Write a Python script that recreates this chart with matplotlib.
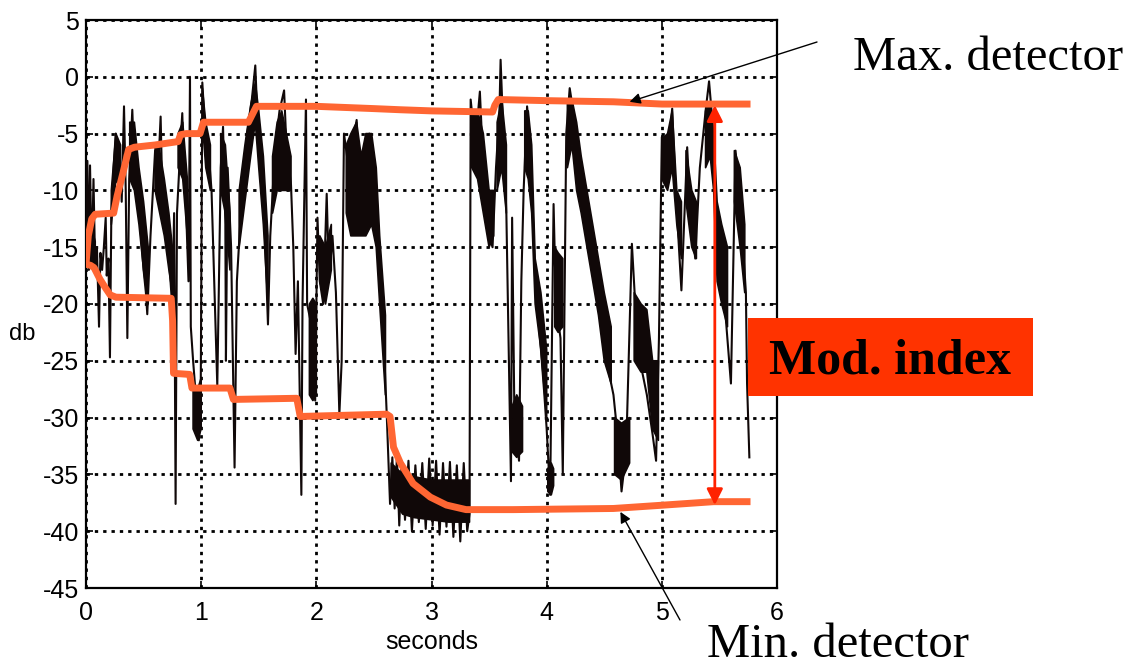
import numpy as np
import matplotlib
matplotlib.use("Agg")
import matplotlib.pyplot as plt
from matplotlib.patches import Rectangle

nan = np.nan

# ---- signal (thin trace, turning points) ----
sig_t = [0.000, 0.012, 0.025, 0.035, 0.050, 0.065, 0.080, 0.095, 0.113, 0.125, 0.140, 0.155, 0.171, 0.180,
         0.195, 0.208, 0.220, 0.240, 0.258, 0.270, 0.290, 0.310, 0.330, 0.345, 0.359, 0.375, 0.402, 0.420,
         0.440, 0.470, 0.500, 0.520, 0.532, 0.560, 0.600, 0.630, 0.648, 0.660, 0.700, 0.740, 0.750, 0.765,
         0.778, 0.790, 0.820, 0.836, 0.850, 0.870, 0.890, 0.903, 0.910, 0.930, 0.950, 0.980, 0.995, 1.010,
         1.030, 1.060, 1.090, 1.140, 1.170, 1.190, 1.210, 1.215, 1.230, 1.260, 1.290, 1.310, 1.350, 1.400,
         1.440, 1.470, 1.480, 1.510, 1.550, 1.580, 1.600, 1.640, 1.680, 1.720, 1.740, 1.780, 1.800, 1.820,
         1.840, 1.870, 1.880, 1.910, 1.920, 1.960, 1.990, 2.010, 2.030, 2.060, 2.090, 2.110, 2.140, 2.170,
         2.200, 2.220, 2.240, 2.280, 2.350, 2.380, 2.420, 2.460, 2.500, 2.540, 2.580, 2.610, 2.640, 2.660,
         2.680, 2.700, 2.720, 2.740, 2.770, 2.800, 2.830, 2.860, 2.890, 2.920, 2.950, 2.980, 3.010, 3.040,
         3.070, 3.100, 3.130, 3.160, 3.190, 3.220, 3.250, 3.280, 3.310, 3.330, 3.340, 3.380, 3.420,
         3.450, 3.500, 3.530, 3.560, 3.590, 3.600, 3.620, 3.650, 3.690, 3.700, 3.720, 3.760, 3.780, 3.800,
         3.830, 3.860, 3.900, 3.950, 3.980, 4.000, 4.030, 4.060, 4.080, 4.120, 4.140, 4.170, 4.200, 4.230,
         4.270, 4.320, 4.380, 4.450, 4.520, 4.580, 4.620, 4.650, 4.690, 4.740, 4.780, 4.830, 4.870, 4.920,
         4.950, 4.975, 5.000, 5.020, 5.060, 5.090, 5.120, 5.170, 5.220, 5.250, 5.290, 5.330, 5.380, 5.410,
         5.440, 5.480, 5.530, 5.600, 5.640, 5.680, 5.730, 5.740, 5.760]
sig_y = [-16.5, -7.4, -17.0, -7.8, -16.5, -9.0, -17.0, -15.0, -22.0, -15.5, -17.0, -15.0, -12.4, -17.5,
         -16.0, -24.7, -12.0, -8.0, -5.0, -9.0, -6.0, -11.0, -2.6, -10.0, -23.0, -9.0, -2.9, -8.0,
         -10.0, -13.0, -17.0, -19.0, -20.9, -14.0, -6.5, -7.5, -3.5, -9.0, -13.0, -19.0, -20.4, -12.0,
         -37.6, -12.0, -6.0, -3.2, -8.0, -12.0, -18.0, 0.0, -22.0, -25.0, -27.6, -32.0, -30.0, -0.5,
         -4.0, -6.0, -10.0, -27.2, -8.0, -4.4, -13.0, -25.0, -8.0, -15.0, -34.4, -18.0, -11.0, -5.0,
         -2.0, 1.0, -1.5, -7.0, -13.0, -21.8, -14.0, -6.5, -3.0, -1.2, -6.0, -9.5, -15.0, -24.4,
         -18.0, -36.8, -20.0, -2.0, -20.0, -22.0, -28.5, -12.4, -18.0, -20.0, -10.3, -18.0, -14.0, -19.0,
         -29.7, -25.0, -5.0, -8.0, -3.8, -13.0, -8.0, -5.0, -7.0, -16.0, -22.0, -29.4, -37.6, -33.5,
         -38.0, -33.4, -39.5, -34.0, -39.0, -33.8, -40.0, -34.2, -39.2, -34.0, -39.8, -33.6, -39.5, -33.8,
         -40.3, -34.0, -39.6, -33.9, -40.5, -34.2, -40.9, -34.0, -40.0, -38.5, -2.0, -6.0, -1.3,
         -8.0, -14.0, -15.0, -8.0, -3.0, 1.5, -4.0, -12.0, -35.6, -12.4, -30.0, -33.8, -18.0, -10.0,
         -2.6, -6.0, -18.0, -24.0, -28.0, -31.0, -36.8, -11.2, -20.0, -23.0, -35.0, -5.0, -1.0, -3.0,
         -8.0, -12.0, -16.0, -20.0, -25.0, -28.0, -32.0, -36.5, -33.0, -14.7, -22.0, -26.0, -28.0, -31.5,
         -33.8, -23.0, -5.3, -8.0, -6.0, -2.8, -10.0, -18.8, -6.2, -12.0, -16.0, -8.0, -3.0, -0.4,
         -4.0, -14.0, -18.0, -27.0, -6.5, -11.0, -19.0, -27.0, -33.5]

# ---- dense (thick) parts of the signal: envelope, NaN separates segments ----
band_t  = [0.00, 0.04, 0.08, nan, 0.22, 0.26, 0.30, nan, 0.38, 0.42, 0.46, 0.50, 0.54, nan,
           0.60, 0.64, 0.68, 0.72, 0.75, nan, 0.80, 0.84, 0.88, nan, 0.93, 0.97, 1.00, nan,
           1.01, 1.04, 1.08, nan, 1.17, 1.21, 1.25, nan, 1.33, 1.38, 1.43, 1.47, 1.50, 1.54, 1.58, nan,
           1.62, 1.66, 1.70, 1.74, 1.78, nan, 1.94, 1.97, 2.00, nan, 2.03, 2.08, 2.13, nan,
           2.26, 2.30, 2.35, 2.39, 2.43, 2.48, 2.52, 2.55, 2.60, nan,
           2.65, 2.75, 2.85, 3.00, 3.15, 3.33, nan, 3.35, 3.40, 3.45, 3.50, 3.54, nan,
           3.57, 3.61, 3.65, nan, 3.70, 3.74, 3.79, nan, 3.81, 3.84, 3.87, 3.90, 3.95, 4.00, nan,
           4.01, 4.04, 4.06, nan, 4.07, 4.10, 4.14, nan,
           4.18, 4.22, 4.26, 4.30, 4.35, 4.40, 4.45, 4.50, 4.56, nan, 4.59, 4.65, 4.72, nan,
           4.76, 4.82, 4.87, 4.92, 4.97, nan, 5.00, 5.05, 5.09, 5.13, 5.17, nan, 5.21, 5.26, 5.30, nan,
           5.38, 5.42, 5.45, 5.48, 5.52, 5.57, nan, 5.63, 5.68, 5.72]
band_lo = [-16.5, -16.8, -17.0, nan, -13.0, -9.0, -10.0, nan, -9.0, -10.0, -13.0, -17.0, -20.0, nan,
           -10.0, -12.0, -14.0, -17.0, -19.0, nan, -8.0, -9.0, -14.0, nan, -31.0, -32.0, -31.0, nan,
           -4.0, -8.0, -10.0, nan, -10.0, -12.0, -17.0, nan, -15.0, -11.0, -7.0, -4.0, -8.0, -13.0, -20.0, nan,
           -12.0, -10.0, -10.0, -10.0, -10.0, nan, -28.0, -28.5, -28.0, nan, -18.0, -20.0, -17.0, nan,
           -12.0, -14.0, -14.0, -14.0, -14.0, -13.0, -15.0, -20.0, -28.0, nan,
           -37.0, -38.5, -38.8, -39.0, -39.2, -39.2, nan, -8.0, -9.0, -12.0, -15.0, -14.0, nan,
           -10.0, -8.0, -12.0, nan, -33.0, -33.5, -33.0, nan, -8.0, -9.0, -12.0, -20.0, -24.0, -30.0, nan,
           -36.5, -36.8, -36.0, nan, -22.0, -22.5, -22.0, nan,
           -8.0, -6.0, -10.0, -12.0, -15.0, -18.0, -21.0, -25.0, -27.0, nan, -35.0, -35.5, -34.0, nan,
           -25.0, -26.0, -26.0, -31.0, -32.0, nan, -9.0, -10.0, -8.0, -13.0, -16.0, nan, -11.0, -15.0, -16.0, nan,
           -8.0, -7.0, -10.0, -18.0, -20.0, -22.0, nan, -11.0, -15.0, -19.0]
band_hi = [-12.5, -13.0, -14.5, nan, -10.0, -5.0, -6.0, nan, -4.0, -4.0, -8.0, -11.0, -15.0, nan,
           -6.0, -6.5, -9.0, -12.0, -15.0, nan, -5.0, -4.0, -9.0, nan, -27.0, -27.5, -26.5, nan,
           -1.0, -4.0, -6.0, nan, -5.0, -6.0, -12.0, nan, -10.0, -6.0, -2.5, -0.5, -3.0, -7.0, -14.0, nan,
           -7.0, -4.0, -3.0, -5.0, -7.0, nan, -20.0, -19.5, -20.0, nan, -14.0, -15.0, -13.0, nan,
           -6.0, -5.0, -4.0, -7.0, -5.0, -5.0, -8.0, -14.0, -21.0, nan,
           -34.0, -35.0, -35.2, -35.5, -35.5, -35.5, nan, -3.0, -3.0, -5.0, -10.0, -10.0, nan,
           -4.0, -2.0, -6.0, nan, -29.0, -28.0, -29.0, nan, -3.0, -3.0, -6.0, -16.0, -19.0, -24.0, nan,
           -34.5, -34.0, -34.5, nan, -15.0, -15.5, -16.0, nan,
           -2.0, -2.0, -4.0, -7.0, -10.0, -13.0, -16.0, -19.0, -22.0, nan, -30.0, -30.5, -30.0, nan,
           -19.0, -20.0, -20.5, -25.0, -25.0, nan, -5.5, -5.0, -3.0, -10.0, -11.0, nan, -6.5, -10.0, -11.0, nan,
           -3.0, -2.4, -5.0, -11.0, -13.0, -15.0, nan, -6.5, -8.0, -13.0]

# ---- detectors ----
max_t = [0.00, 0.02, 0.05, 0.08, 0.24, 0.27, 0.32, 0.37, 0.42, 0.60, 0.80, 0.82, 0.87, 0.99, 1.02, 1.41,
         1.44, 1.48, 2.00, 2.50, 2.73, 3.00, 3.53, 3.55, 3.58, 4.00, 4.58, 5.00, 5.77]
max_y = [-16.5, -14.0, -12.5, -12.1, -12.0, -10.5, -8.5, -6.4, -6.2, -6.0, -5.7, -5.1, -5.0, -5.0, -4.0, -4.0,
         -3.4, -2.6, -2.6, -2.8, -2.9, -3.0, -3.1, -2.5, -2.0, -2.1, -2.2, -2.4, -2.4]
min_t = [0.00, 0.04, 0.07, 0.12, 0.17, 0.21, 0.26, 0.74, 0.752, 0.76, 0.90, 0.92, 1.25, 1.28, 1.83, 1.86,
         2.61, 2.64, 2.67, 2.73, 2.84, 2.99, 3.13, 3.30, 3.71, 4.58, 5.02, 5.45, 5.77]
min_y = [-16.5, -16.6, -16.8, -17.8, -18.6, -19.2, -19.4, -19.5, -21.5, -26.1, -26.2, -27.4, -27.4, -28.4,
         -28.3, -29.9, -29.7, -29.9, -32.6, -34.0, -35.8, -37.0, -37.7, -38.1, -38.1, -38.0, -37.7, -37.4, -37.4]

x_ticks = [0, 1, 2, 3, 4, 5, 6]
y_ticks = [-45, -40, -35, -30, -25, -20, -15, -10, -5, 0, 5]
mod_t = 5.46
mod_top, mod_bot = -2.5, -37.7

W, H = 1132, 665
fig = plt.figure(figsize=(W / 100, H / 100), dpi=100)
ax = fig.add_axes([86 / W, (H - 588) / H, (777 - 86) / W, (588 - 20) / H])

ax.set_xlim(0, 6)
ax.set_ylim(-45, 5)
ax.set_xticks(x_ticks)
ax.set_yticks(y_ticks)
ax.set_xticklabels([str(v) for v in x_ticks], fontfamily='Liberation Sans', fontsize=18)
ax.set_yticklabels([str(v) for v in y_ticks], fontfamily='Liberation Sans', fontsize=18)
ax.tick_params(direction='in', length=5, width=1.2, top=True, right=True, pad=5)
ax.tick_params(axis='x', pad=9)
ax.grid(True, color='black', linestyle=(0, (1.2, 1.8)), linewidth=2.0)
ax.set_axisbelow(True)
for s in ax.spines.values():
    s.set_linewidth(1.6)
    s.set_color('black')

# signal
bt = np.array(band_t, dtype=float)
ax.fill_between(bt, np.array(band_lo, dtype=float), np.array(band_hi, dtype=float),
                color='#100808', linewidth=1.2, edgecolor='#100808', zorder=3)
ax.plot(sig_t, sig_y, color='#100808', linewidth=1.5, zorder=3)

# detectors
orange = '#ff6633'
ax.plot(max_t, max_y, color=orange, linewidth=5.0, solid_capstyle='butt', zorder=4)
ax.plot(min_t, min_y, color=orange, linewidth=5.0, solid_capstyle='butt', zorder=4)

# modulation index arrow
ax.annotate('', xy=(mod_t, mod_top), xytext=(mod_t, mod_bot),
            arrowprops=dict(arrowstyle='<|-|>', color='#ff2200', lw=2.0, mutation_scale=24,
                            shrinkA=0, shrinkB=0), zorder=5)

# annotation arrows
ax.annotate('', xy=(4.72, -2.2), xytext=(817, H - 42), textcoords='figure pixels',
            arrowprops=dict(arrowstyle='-|>', color='black', lw=1.0, mutation_scale=16,
                            shrinkA=0, shrinkB=0), annotation_clip=False, zorder=6)
ax.annotate('', xy=(4.64, -38.3), xytext=(680, H - 620), textcoords='figure pixels',
            arrowprops=dict(arrowstyle='-|>', color='black', lw=1.0, mutation_scale=16,
                            shrinkA=0, shrinkB=0), annotation_clip=False, zorder=6)

ax.set_xlabel('seconds', fontfamily='Liberation Sans', fontsize=18, labelpad=4)
fig.text(9 / W, 1 - 334 / H, 'db', fontfamily='Liberation Sans', fontsize=17, ha='left', va='center')

fig.text(853 / W, 1 - 70 / H, 'Max. detector', fontfamily='Liberation Serif', fontsize=35,
         ha='left', va='baseline')
fig.text(707 / W, 1 - 657 / H, 'Min. detector', fontfamily='Liberation Serif', fontsize=35,
         ha='left', va='baseline')

box = Rectangle((748 / W, 1 - 396 / H), 285 / W, 78 / H, transform=fig.transFigure,
                facecolor='#ff3300', edgecolor='none', zorder=5)
fig.patches.append(box)
fig.text(890 / W, 1 - 373 / H, 'Mod. index', fontfamily='Liberation Serif', fontsize=36,
         fontweight='bold', ha='center', va='baseline', zorder=6)

fig.savefig('out.png', dpi=100)
